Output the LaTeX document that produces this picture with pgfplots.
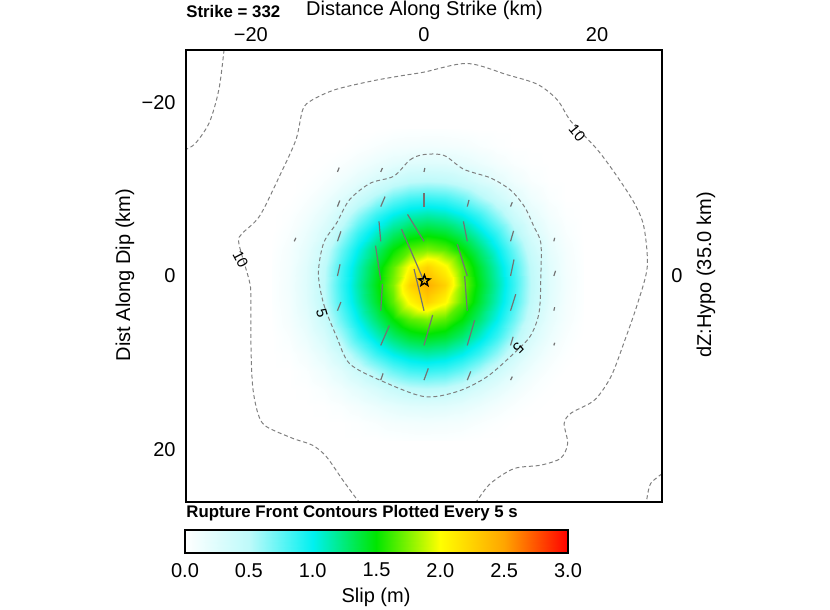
\documentclass[border=0pt]{standalone}
\usepackage{fontspec}
\setmainfont{Liberation Sans}
\usepackage{pgfplots}
\pgfplotsset{compat=1.18}
\usepackage{pgfplotstable}

\pgfplotsset{colormap={slip}{rgb255(0cm)=(255,255,255); rgb255(1cm)=(190,250,250); rgb255(2cm)=(0,240,240); rgb255(3cm)=(0,230,0); rgb255(4cm)=(255,255,0); rgb255(5cm)=(255,165,0); rgb255(6cm)=(255,0,0)}}

\pgfdeclareplotmark{ostar}{%
  \pgfpathmoveto{\pgfpointpolar{90}{\pgfplotmarksize}}%
  \pgfpathlineto{\pgfpointpolar{126}{0.42\pgfplotmarksize}}%
  \pgfpathlineto{\pgfpointpolar{162}{\pgfplotmarksize}}%
  \pgfpathlineto{\pgfpointpolar{198}{0.42\pgfplotmarksize}}%
  \pgfpathlineto{\pgfpointpolar{234}{\pgfplotmarksize}}%
  \pgfpathlineto{\pgfpointpolar{270}{0.42\pgfplotmarksize}}%
  \pgfpathlineto{\pgfpointpolar{306}{\pgfplotmarksize}}%
  \pgfpathlineto{\pgfpointpolar{342}{0.42\pgfplotmarksize}}%
  \pgfpathlineto{\pgfpointpolar{18}{\pgfplotmarksize}}%
  \pgfpathlineto{\pgfpointpolar{54}{0.42\pgfplotmarksize}}%
  \pgfpathclose
  \pgfusepathqstroke
}

\pgfplotstableread{
x y u v
-10 -12 0.2 -0.5
-5 -12 0.2 -0.45
0 -12 0.1 -0.45
-10 -8 0.27 -0.7
-5 -8 0.5 -1.15
0 -8 0 -1.55
5 -8 0.2 -0.77
10 -8 0.2 -0.5
-15 -4 0.2 -0.4
-10 -4 0.4 -1.15
-5 -4 -0.2 -2.3
0 -4 -1.9 -3.1
5 -4 -0.45 -2.3
10 -4 0.35 -1.2
15 -4 0.1 -0.4
-10 0 0.3 -1.35
-5 0.5 -0.6 -4.0
0 0.6 -2.6 -6.0
5 0 -1.15 -3.65
10 0 0.4 -1.9
15 0 0.2 -0.6
-10 4 0.4 -1.0
-5 4 0.2 -3.1
0 4 -1.15 -4.8
5 4 -0.3 -4.0
10 4 0.6 -1.9
15 4 0.1 -0.4
-5 8 1.0 -2.3
0 8 1.0 -3.5
5 8 0.85 -2.9
10 8 0.3 -1.0
15 8 0.1 -0.3
-5 12 0.27 -0.77
0 12 0.5 -1.35
5 12 0.4 -1.0
10 12 0.2 -0.4
}\vectors

\begin{document}
\begin{tikzpicture}[font=\fontsize{10}{12}\selectfont]
\useasboundingbox (0,0) rectangle (415pt,305pt);
\begin{axis}[
  at={(93pt,54pt)}, anchor=south west, scale only axis,
  width=238pt, height=226pt,
  xmin=-27.5, xmax=27.5, ymin=-26.05, ymax=26.05, y dir=reverse,
  xtick={-20,0,20}, xticklabels={−20,0,20}, xticklabel pos=upper,
  ytick={-20,0,20}, yticklabels={−20,0,20}, yticklabel pos=left,
  major tick length=0pt,
  tick label style={font=\fontsize{10}{12}\selectfont},
  xticklabel style={yshift=0.7pt}, yticklabel style={xshift=-1.7pt},
  axis line style={line width=1.2pt},
  axis on top,
  colormap name=slip, point meta min=0, point meta max=3,
]
\addplot[surf, shader=interp, mesh/cols=19, point meta=\thisrow{s}] table {
x y s
-17.6 -17 0
-15.6 -17 0
-13.6 -17 0
-11.6 -17 0
-9.6 -17 0
-7.6 -17 0
-5.6 -17 0
-3.6 -17 0.01
-1.6 -17 0.02
0.4 -17 0.02
2.4 -17 0.02
4.4 -17 0.01
6.4 -17 0
8.4 -17 0
10.4 -17 0
12.4 -17 0
14.4 -17 0
16.4 -17 0
18.4 -17 0
-17.6 -15 0
-15.6 -15 0
-13.6 -15 0
-11.6 -15 0
-9.6 -15 0
-7.6 -15 0.02
-5.6 -15 0.05
-3.6 -15 0.08
-1.6 -15 0.09
0.4 -15 0.10
2.4 -15 0.09
4.4 -15 0.08
6.4 -15 0.05
8.4 -15 0.02
10.4 -15 0
12.4 -15 0
14.4 -15 0
16.4 -15 0
18.4 -15 0
-17.6 -13 0
-15.6 -13 0
-13.6 -13 0
-11.6 -13 0.01
-9.6 -13 0.04
-7.6 -13 0.09
-5.6 -13 0.15
-3.6 -13 0.20
-1.6 -13 0.24
0.4 -13 0.25
2.4 -13 0.24
4.4 -13 0.20
6.4 -13 0.15
8.4 -13 0.09
10.4 -13 0.04
12.4 -13 0.01
14.4 -13 0
16.4 -13 0
18.4 -13 0
-17.6 -11 0
-15.6 -11 0
-13.6 -11 0.01
-11.6 -11 0.05
-9.6 -11 0.12
-7.6 -11 0.21
-5.6 -11 0.31
-3.6 -11 0.41
-1.6 -11 0.48
0.4 -11 0.50
2.4 -11 0.48
4.4 -11 0.41
6.4 -11 0.31
8.4 -11 0.21
10.4 -11 0.12
12.4 -11 0.05
14.4 -11 0.01
16.4 -11 0
18.4 -11 0
-17.6 -9 0
-15.6 -9 0
-13.6 -9 0.04
-11.6 -9 0.12
-9.6 -9 0.24
-7.6 -9 0.39
-5.6 -9 0.56
-3.6 -9 0.72
-1.6 -9 0.82
0.4 -9 0.85
2.4 -9 0.82
4.4 -9 0.72
6.4 -9 0.56
8.4 -9 0.39
10.4 -9 0.24
12.4 -9 0.12
14.4 -9 0.04
16.4 -9 0
18.4 -9 0
-17.6 -7 0
-15.6 -7 0.02
-13.6 -7 0.09
-11.6 -7 0.21
-9.6 -7 0.39
-7.6 -7 0.62
-5.6 -7 0.85
-3.6 -7 1.01
-1.6 -7 1.11
0.4 -7 1.15
2.4 -7 1.11
4.4 -7 1.01
6.4 -7 0.85
8.4 -7 0.62
10.4 -7 0.39
12.4 -7 0.21
14.4 -7 0.09
16.4 -7 0.02
18.4 -7 0
-17.6 -5 0
-15.6 -5 0.05
-13.6 -5 0.15
-11.6 -5 0.31
-9.6 -5 0.56
-7.6 -5 0.85
-5.6 -5 1.08
-3.6 -5 1.27
-1.6 -5 1.40
0.4 -5 1.45
2.4 -5 1.40
4.4 -5 1.27
6.4 -5 1.08
8.4 -5 0.85
10.4 -5 0.56
12.4 -5 0.31
14.4 -5 0.15
16.4 -5 0.05
18.4 -5 0
-17.6 -3 0.01
-15.6 -3 0.08
-13.6 -3 0.20
-11.6 -3 0.41
-9.6 -3 0.72
-7.6 -3 1.01
-5.6 -3 1.27
-3.6 -3 1.50
-1.6 -3 1.68
0.4 -3 1.75
2.4 -3 1.68
4.4 -3 1.50
6.4 -3 1.27
8.4 -3 1.01
10.4 -3 0.72
12.4 -3 0.41
14.4 -3 0.20
16.4 -3 0.08
18.4 -3 0.01
-17.6 -1 0.02
-15.6 -1 0.09
-13.6 -1 0.24
-11.6 -1 0.48
-9.6 -1 0.82
-7.6 -1 1.11
-5.6 -1 1.40
-3.6 -1 1.68
-1.6 -1 2.04
0.4 -1 2.25
2.4 -1 2.04
4.4 -1 1.68
6.4 -1 1.40
8.4 -1 1.11
10.4 -1 0.82
12.4 -1 0.48
14.4 -1 0.24
16.4 -1 0.09
18.4 -1 0.02
-17.6 1 0.02
-15.6 1 0.10
-13.6 1 0.25
-11.6 1 0.50
-9.6 1 0.85
-7.6 1 1.15
-5.6 1 1.45
-3.6 1 1.75
-1.6 1 2.25
0.4 1 2.45
2.4 1 2.25
4.4 1 1.75
6.4 1 1.45
8.4 1 1.15
10.4 1 0.85
12.4 1 0.50
14.4 1 0.25
16.4 1 0.10
18.4 1 0.02
-17.6 3 0.02
-15.6 3 0.09
-13.6 3 0.24
-11.6 3 0.48
-9.6 3 0.82
-7.6 3 1.11
-5.6 3 1.40
-3.6 3 1.68
-1.6 3 2.04
0.4 3 2.25
2.4 3 2.04
4.4 3 1.68
6.4 3 1.40
8.4 3 1.11
10.4 3 0.82
12.4 3 0.48
14.4 3 0.24
16.4 3 0.09
18.4 3 0.02
-17.6 5 0.01
-15.6 5 0.08
-13.6 5 0.20
-11.6 5 0.41
-9.6 5 0.72
-7.6 5 1.01
-5.6 5 1.27
-3.6 5 1.50
-1.6 5 1.68
0.4 5 1.75
2.4 5 1.68
4.4 5 1.50
6.4 5 1.27
8.4 5 1.01
10.4 5 0.72
12.4 5 0.41
14.4 5 0.20
16.4 5 0.08
18.4 5 0.01
-17.6 7 0
-15.6 7 0.05
-13.6 7 0.15
-11.6 7 0.31
-9.6 7 0.56
-7.6 7 0.85
-5.6 7 1.08
-3.6 7 1.27
-1.6 7 1.40
0.4 7 1.45
2.4 7 1.40
4.4 7 1.27
6.4 7 1.08
8.4 7 0.85
10.4 7 0.56
12.4 7 0.31
14.4 7 0.15
16.4 7 0.05
18.4 7 0
-17.6 9 0
-15.6 9 0.02
-13.6 9 0.09
-11.6 9 0.21
-9.6 9 0.39
-7.6 9 0.62
-5.6 9 0.85
-3.6 9 1.01
-1.6 9 1.11
0.4 9 1.15
2.4 9 1.11
4.4 9 1.01
6.4 9 0.85
8.4 9 0.62
10.4 9 0.39
12.4 9 0.21
14.4 9 0.09
16.4 9 0.02
18.4 9 0
-17.6 11 0
-15.6 11 0
-13.6 11 0.04
-11.6 11 0.12
-9.6 11 0.24
-7.6 11 0.39
-5.6 11 0.56
-3.6 11 0.72
-1.6 11 0.82
0.4 11 0.85
2.4 11 0.82
4.4 11 0.72
6.4 11 0.56
8.4 11 0.39
10.4 11 0.24
12.4 11 0.12
14.4 11 0.04
16.4 11 0
18.4 11 0
-17.6 13 0
-15.6 13 0
-13.6 13 0.01
-11.6 13 0.05
-9.6 13 0.12
-7.6 13 0.21
-5.6 13 0.31
-3.6 13 0.41
-1.6 13 0.48
0.4 13 0.50
2.4 13 0.48
4.4 13 0.41
6.4 13 0.31
8.4 13 0.21
10.4 13 0.12
12.4 13 0.05
14.4 13 0.01
16.4 13 0
18.4 13 0
-17.6 15 0
-15.6 15 0
-13.6 15 0
-11.6 15 0.01
-9.6 15 0.04
-7.6 15 0.09
-5.6 15 0.15
-3.6 15 0.20
-1.6 15 0.24
0.4 15 0.25
2.4 15 0.24
4.4 15 0.20
6.4 15 0.15
8.4 15 0.09
10.4 15 0.04
12.4 15 0.01
14.4 15 0
16.4 15 0
18.4 15 0
-17.6 17 0
-15.6 17 0
-13.6 17 0
-11.6 17 0
-9.6 17 0
-7.6 17 0.02
-5.6 17 0.05
-3.6 17 0.08
-1.6 17 0.09
0.4 17 0.10
2.4 17 0.09
4.4 17 0.08
6.4 17 0.05
8.4 17 0.02
10.4 17 0
12.4 17 0
14.4 17 0
16.4 17 0
18.4 17 0
-17.6 19 0
-15.6 19 0
-13.6 19 0
-11.6 19 0
-9.6 19 0
-7.6 19 0
-5.6 19 0
-3.6 19 0.01
-1.6 19 0.02
0.4 19 0.02
2.4 19 0.02
4.4 19 0.01
6.4 19 0
8.4 19 0
10.4 19 0
12.4 19 0
14.4 19 0
16.4 19 0
18.4 19 0
};
% rupture front contours
\addplot[black!50, line width=0.5pt, dash pattern=on 2pt off 1.4pt, smooth, tension=0.5] coordinates {
(-7.3,26.1) (-7.7,25.8) (-9.4,23.5) (-11.3,20.8) (-12.9,19.5) (-15.2,18.7) (-18.3,17.3) (-19.2,15.8) (-19.8,12.7) (-20.0,7.7) (-20.0,2.3) (-20.2,0.5) (-21.4,-3.8) (-21.0,-4.9) (-19.0,-6.9) (-16.7,-11.5) (-14.8,-15.7) (-14.0,-19.2) (-12.9,-20.3) (-10.2,-21.5) (-5.9,-22.5) (-2.5,-23.1) (0.0,-23.5) (5.0,-24.5) (9.6,-23.2) (13.1,-22.1) (15.4,-20.3) (17.0,-17.8) (20.0,-14.6) (22.3,-11.5) (24.3,-8.4) (25.4,-5.7) (25.8,-1.1) (24.7,3.1) (23.1,7.7) (21.6,11.6) (19.7,14.3) (17.0,15.8) (16.2,17.0) (16.6,19.3) (15.8,21.0) (13.5,21.8) (10.4,22.2) (7.7,23.9) (6.2,25.8) (6.0,26.1)
};
\addplot[black!50, line width=0.5pt, dash pattern=on 2pt off 1.4pt, smooth, tension=0.5] coordinates {
(-23.1,-26.1) (-23.7,-21.5) (-24.8,-17.7) (-26.4,-15.3) (-27.5,-14.6)
};
\addplot[black!50, line width=0.5pt, dash pattern=on 2pt off 1.4pt, smooth, tension=0.5] coordinates {
(27.5,22.8) (26.2,23.9) (25.8,25.4) (25.7,26.1)
};
\addplot[black!50, line width=0.5pt, dash pattern=on 2pt off 1.4pt, smooth cycle, tension=0.5] coordinates {
(-3.5,-11.5) (-1.6,-13.4) (0.0,-14.0) (2.3,-13.9) (4.6,-12.3) (7.7,-11.3) (10.0,-9.9) (11.6,-8.0) (12.7,-5.7) (13.5,-3.8) (13.5,0) (13.3,4.2) (12.3,6.9) (10.4,8.9) (7.3,11.6) (3.9,13.3) (0,13.9) (-5.1,12.0) (-8.6,10.1) (-10.1,7.0) (-11.6,3.2) (-12.2,-0.3) (-11.6,-3.8) (-10.1,-6.1) (-8.6,-8.8) (-6.2,-10.7)
};
% slip vectors
\addplot[black!55, line width=0.6pt, quiver={u=\thisrow{u}, v=\thisrow{v}}] table {\vectors};
% hypocentre
\addplot[only marks, mark=ostar, mark size=2.9pt, mark options={line width=0.7pt, draw=black}] coordinates {(0.05,0.55)};
% contour labels
\node[rotate=-50, inner sep=0.5pt, font=\fontsize{7.5}{9}\selectfont] at (axis cs:17.7,-16.5) {10};
\node[rotate=-62, inner sep=0.5pt, font=\fontsize{7.5}{9}\selectfont] at (axis cs:-21.2,-1.9) {10};
\node[rotate=-75, inner sep=0.5pt, font=\fontsize{7.5}{9}\selectfont] at (axis cs:-11.8,4.3) {5};
\node[rotate=-135, inner sep=0.5pt, font=\fontsize{7.5}{9}\selectfont] at (axis cs:10.9,8.3) {5};
\end{axis}

% colour bar
\begin{axis}[
  at={(92.5pt,28.5pt)}, anchor=south west, scale only axis,
  width=191.5pt, height=11.5pt,
  xmin=0, xmax=3, ymin=0, ymax=1, ytick=\empty,
  xtick={0,0.5,1,1.5,2,2.5,3}, xticklabels={0.0,0.5,1.0,1.5,2.0,2.5,3.0},
  major tick length=0pt,
  tick label style={font=\fontsize{10}{12}\selectfont},
  xticklabel style={yshift=-1.5pt},
  axis line style={line width=1.2pt},
  axis on top,
  colormap name=slip, point meta min=0, point meta max=3,
]
\addplot[surf, shader=interp, mesh/cols=7, point meta=\thisrow{c}] table {
x y c
0 0 0
0.5 0 0.5
1 0 1
1.5 0 1.5
2 0 2
2.5 0 2.5
3 0 3
0 1 0
0.5 1 0.5
1 1 1
1.5 1 1.5
2 1 2
2.5 1 2.5
3 1 3
};
\end{axis}

\node[anchor=west, inner sep=0pt, font=\bfseries\fontsize{8.4}{10}\selectfont] at (93pt,299pt) {Strike = 332};
\node at (212.25pt,300pt) {Distance Along Strike (km)};
\node[rotate=90] at (62.5pt,167.5pt) {Dist Along Dip (km)};
\node[rotate=90] at (353pt,167.5pt) {dZ:Hypo (35.0 km)};
\node at (338.5pt,167pt) {0};
\node[anchor=west, inner sep=0pt, font=\bfseries\fontsize{8.4}{10}\selectfont] at (93pt,48.5pt) {Rupture Front Contours Plotted Every 5 s};
\node at (188pt,6.5pt) {Slip (m)};
\end{tikzpicture}
\end{document}
